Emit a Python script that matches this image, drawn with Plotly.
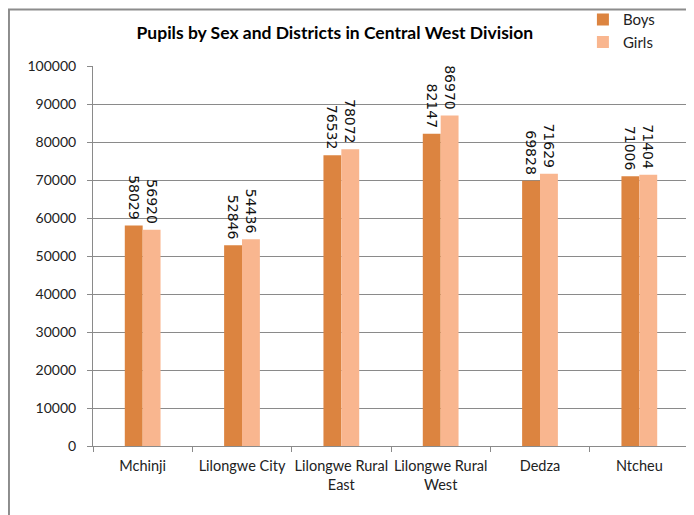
import plotly.graph_objects as go

# districts and pupil counts
districts = ["Mchinji", "Lilongwe City", "Lilongwe Rural<br>East", "Lilongwe Rural<br>West", "Dedza", "Ntcheu"]
boys = [58029, 52846, 76532, 82147, 69828, 71006]
girls = [56920, 54436, 78072, 86970, 71629, 71404]

y_ticks = list(range(0, 100001, 10000))

colBoys = "#DC8440"
colGirls = "#F9B68F"
fuente = "Lato, Calibri, sans-serif"
fuenteNum = "DejaVu Sans, Verdana, sans-serif"

fig = go.Figure()
for nombre, vals, col in [("Boys", boys, colBoys), ("Girls", girls, colGirls)]:
    fig.add_trace(go.Bar(x=districts, y=vals, name=nombre, marker=dict(color=col, line=dict(width=0)),
                         text=[str(v) + "\u2009" for v in vals], textposition="outside", textangle=90,
                         constraintext="none", cliponaxis=False,
                         textfont=dict(family=fuenteNum, size=14, color="#111")))

# marco gris del grafico (borde izquierdo y superior)
fig.add_shape(type="rect", xref="paper", yref="paper", x0=-0.1410, x1=1.2, y0=-0.3, y1=1.149,
              line=dict(color="#8c8c8c", width=2), layer="below")

fig.update_layout(
    width=694, height=515,
    margin=dict(l=85, r=13, t=58, b=77, autoexpand=False),
    paper_bgcolor="white", plot_bgcolor="white",
    font=dict(family=fuente, size=14, color="#222"),
    title=dict(text="<b>Pupils by Sex and Districts in Central West Division</b>",
               x=0.471, xanchor="center", y=0.951, yanchor="middle",
               font=dict(family=fuente, size=17.5, color="#000")),
    barmode="group", bargap=0.64, bargroupgap=0,
    legend=dict(x=0.822, y=1.165, xanchor="left", yanchor="top", bgcolor="rgba(0,0,0,0)",
                font=dict(family=fuente, size=15, color="#222"), tracegroupgap=4,
                itemwidth=30),
    showlegend=True,
)
fig.update_yaxes(range=[0, 100000], tickvals=y_ticks, ticktext=[str(v) for v in y_ticks],
                 showgrid=True, gridcolor="#8a8a8a", gridwidth=1,
                 showline=True, linecolor="#8a8a8a", linewidth=1,
                 ticks="outside", ticklen=5, tickcolor="#8a8a8a", ticklabelstandoff=8,
                 tickfont=dict(family=fuente, size=14, color="#222"), zeroline=False,
                 automargin=False)
fig.update_xaxes(showline=True, linecolor="#8a8a8a", linewidth=1, tickangle=0,
                 ticks="outside", ticklen=5, tickcolor="#8a8a8a", tickson="boundaries",
                 ticklabelstandoff=7, automargin=False,
                 tickfont=dict(family=fuente, size=14.5, color="#222"))

fig.write_html("out.html")
